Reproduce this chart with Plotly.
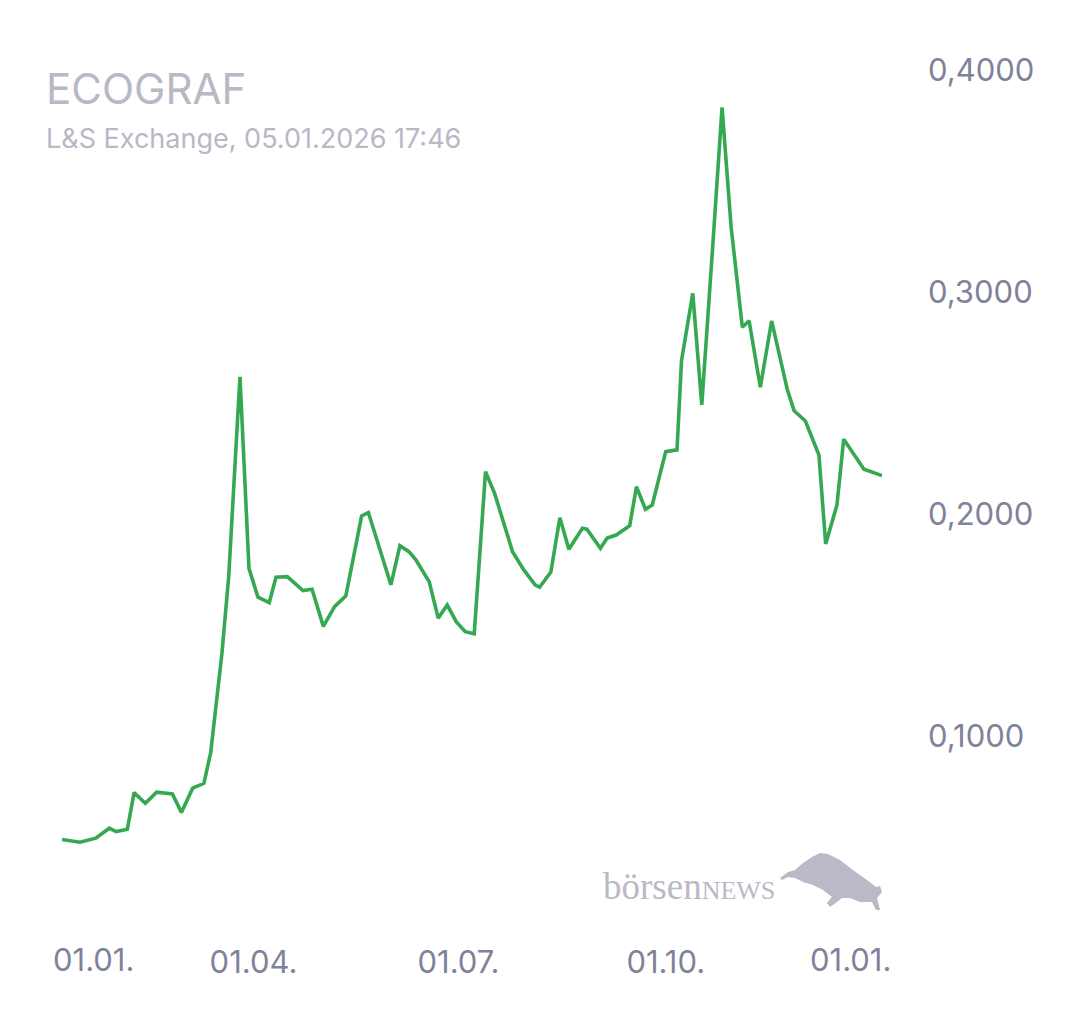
import plotly.graph_objects as go

# ECOGRAF, L&S Exchange - closing prices
dates = [
    "2025-01-06", "2025-01-14", "2025-01-21", "2025-01-27", "2025-01-30", "2025-02-04",
    "2025-02-07", "2025-02-12", "2025-02-17", "2025-02-24", "2025-02-28", "2025-03-05",
    "2025-03-10", "2025-03-13", "2025-03-18", "2025-03-21", "2025-03-26", "2025-03-30",
    "2025-04-03", "2025-04-08", "2025-04-11", "2025-04-16", "2025-04-23", "2025-04-27",
    "2025-05-02", "2025-05-07", "2025-05-12", "2025-05-15", "2025-05-19", "2025-05-22",
    "2025-05-27", "2025-06-01", "2025-06-05", "2025-06-09", "2025-06-12", "2025-06-18",
    "2025-06-22", "2025-06-26", "2025-06-30", "2025-07-04", "2025-07-08", "2025-07-13",
    "2025-07-17", "2025-07-22", "2025-07-25", "2025-07-30", "2025-08-04", "2025-08-06",
    "2025-08-11", "2025-08-15", "2025-08-19", "2025-08-25", "2025-08-27", "2025-09-02",
    "2025-09-05", "2025-09-09", "2025-09-15", "2025-09-18", "2025-09-22", "2025-09-25",
    "2025-10-01", "2025-10-06", "2025-10-08", "2025-10-13", "2025-10-17", "2025-10-22",
    "2025-10-26", "2025-10-30", "2025-11-04", "2025-11-07", "2025-11-12", "2025-11-17",
    "2025-11-24", "2025-11-27", "2025-12-02", "2025-12-08", "2025-12-11", "2025-12-16",
    "2025-12-19", "2025-12-28", "2026-01-05",
]
prices = [
    0.0537, 0.0525, 0.0543, 0.0588, 0.0573, 0.0583,
    0.0748, 0.0700, 0.0750, 0.0742, 0.0659, 0.0768,
    0.0790, 0.0928, 0.1375, 0.1720, 0.2619, 0.1757,
    0.1627, 0.1603, 0.1717, 0.1720, 0.1657, 0.1663,
    0.1496, 0.1585, 0.1633, 0.1780, 0.1993, 0.2008,
    0.1841, 0.1683, 0.1859, 0.1832, 0.1796, 0.1697,
    0.1533, 0.1592, 0.1517, 0.1472, 0.1463, 0.2192,
    0.2095, 0.1922, 0.1832, 0.1750, 0.1683, 0.1672,
    0.1740, 0.1985, 0.1843, 0.1937, 0.1933, 0.1847,
    0.1893, 0.1907, 0.1949, 0.2124, 0.2023, 0.2042,
    0.2282, 0.2290, 0.2691, 0.2994, 0.2492, 0.3227,
    0.3831, 0.3295, 0.2842, 0.2871, 0.2572, 0.2870,
    0.2560, 0.2466, 0.2420, 0.2267, 0.1867, 0.2042,
    0.2338, 0.2203, 0.2174,
]

x_tick_dates = ["2025-04-01", "2025-07-01", "2025-10-01"]
x_tick_text = ["01.04.", "01.07.", "01.10."]
y_ticks = [0.1, 0.2, 0.3, 0.4]

title_text = "ECOGRAF"
subtitle_text = "L&S Exchange, 05.01.2026 17:46"

LABEL_GREY = "#80829a"
TITLE_GREY = "#b8b8c6"
LOGO_GREY = "#b9b9c7"
LINE_GREEN = "#35a852"
FONT = "Inter"

# plot area in page pixels (used only to place the logo/labels in paper units)
PX_LEFT, PX_RIGHT, PX_TOP, PX_BOTTOM = 62, 882, 50, 930


def paper_x(px):
    return (px - PX_LEFT) / (PX_RIGHT - PX_LEFT)


def paper_y(py):
    return (PX_BOTTOM - py) / (PX_BOTTOM - PX_TOP)


fig = go.Figure()
fig.add_trace(go.Scatter(
    x=dates, y=prices, mode="lines",
    line=dict(color=LINE_GREEN, width=3.6),
    hoverinfo="skip", showlegend=False,
))

# page body adds 8px, so margins are 8px smaller than the target positions
fig.update_layout(
    width=1080, height=1013,
    margin=dict(l=54, r=206, t=42, b=91),
    paper_bgcolor="white", plot_bgcolor="white",
    separators=",.",
    font=dict(family=FONT, color=LABEL_GREY, size=30),
    xaxis=dict(
        range=["2025-01-06", "2026-01-05"],
        tickvals=x_tick_dates, ticktext=x_tick_text,
        showgrid=False, zeroline=False, showline=False,
        ticks="", ticklabelstandoff=11,
        tickfont=dict(size=31, color=LABEL_GREY),
    ),
    yaxis=dict(
        side="right", range=[0.013, 0.4089],
        tickvals=y_ticks, tickformat=".4f",
        showgrid=False, zeroline=False, showline=False,
        ticks="", ticklabelstandoff=45,
        tickfont=dict(size=31, color=LABEL_GREY),
    ),
)

# edge date labels (01.01.) sit just inside the plot edges
fig.add_annotation(x=paper_x(51), y=0, xref="paper", yref="paper", xanchor="left",
                   yanchor="top", yshift=-9, text="01.01.", showarrow=False,
                   font=dict(size=31, color=LABEL_GREY))
fig.add_annotation(x=paper_x(893), y=0, xref="paper", yref="paper", xanchor="right",
                   yanchor="top", yshift=-9, text="01.01.", showarrow=False,
                   font=dict(size=31, color=LABEL_GREY))

# title block
fig.add_annotation(x=paper_x(44), y=paper_y(88), xref="paper", yref="paper",
                   xanchor="left", yanchor="middle", text=title_text, showarrow=False,
                   font=dict(size=42, color=TITLE_GREY))
fig.add_annotation(x=paper_x(44), y=paper_y(138), xref="paper", yref="paper",
                   xanchor="left", yanchor="middle", text=subtitle_text, showarrow=False,
                   font=dict(size=27, color=TITLE_GREY))

# watermark: börsenNEWS + bull silhouette
fig.add_annotation(x=paper_x(601), y=paper_y(886), xref="paper", yref="paper",
                   xanchor="left", yanchor="middle",
                   text="börsen<span style='font-size:26px'>NEWS</span>",
                   showarrow=False,
                   font=dict(family="Liberation Serif", size=37, color=LOGO_GREY))

bull = [
    (780, 878), (788, 872), (795, 870), (803, 863), (812, 857), (820, 853),
    (828, 854), (840, 860), (853, 870), (867, 880), (876, 887), (880, 886),
    (882, 892), (877, 898), (880, 910), (876, 910), (872, 902), (860, 902),
    (850, 898), (842, 898), (837, 902), (830, 907), (827, 903), (832, 897),
    (823, 890), (813, 885), (803, 882), (795, 878), (788, 877), (782, 880),
]
path = "M " + " L ".join(f"{paper_x(px):.4f},{paper_y(py):.4f}" for px, py in bull) + " Z"
fig.add_shape(type="path", path=path, xref="paper", yref="paper",
              fillcolor=LOGO_GREY, line=dict(width=0), layer="below")

fig.write_html("out.html")
